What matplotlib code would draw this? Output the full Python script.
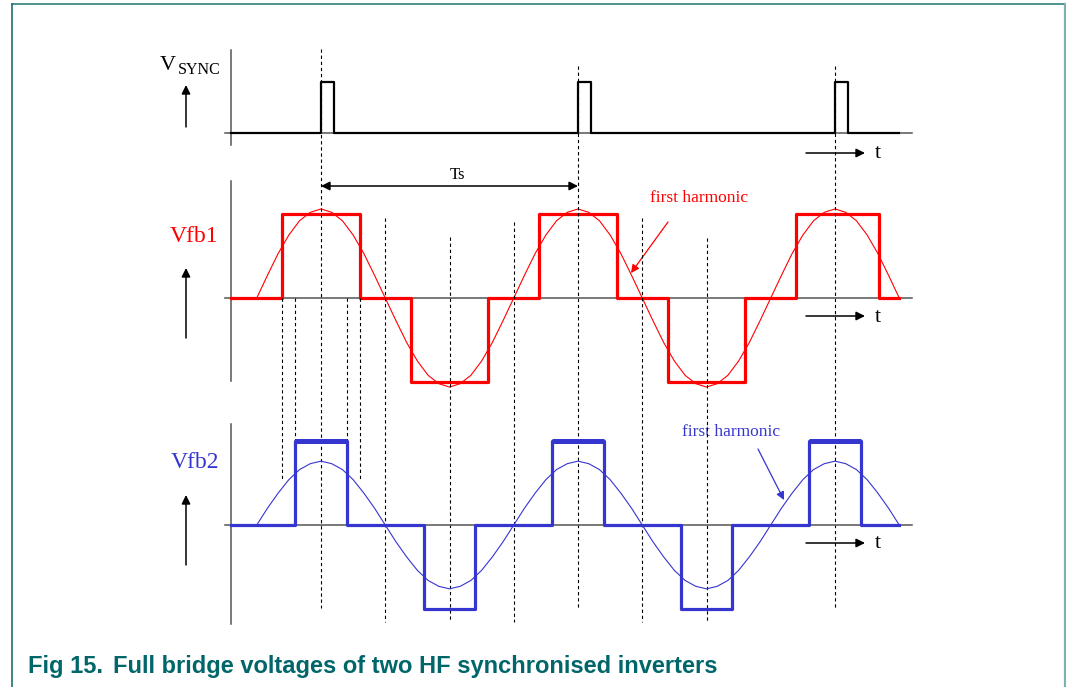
import numpy as np
import matplotlib.pyplot as plt
from matplotlib import transforms

# figure size in pixels (dpi 100)
W, H = 1066, 687
# layout: where t=0 sits, pixels per switching period, pixels per unit amplitude
T0_PX, TS_PX, UNIT_PX = 321, 257, 84

# ---- data (time in units of Ts, t=0 at first sync pulse) ----
sync_t = [-0.35, 0.0, 0.05, 1.0, 1.05, 2.0, 2.05, 2.25]
sync_v = [0, 0.61, 0, 0.61, 0, 0.61, 0, 0]

fb1_t = [-0.35, -0.15, 0.15, 0.35, 0.65, 0.85, 1.15, 1.35, 1.65, 1.85, 2.17, 2.25]
fb1_v = [0, 1, 0, -1, 0, 1, 0, -1, 0, 1, 0, 0]

fb2_t = [-0.35, -0.10, 0.10, 0.40, 0.60, 0.90, 1.10, 1.40, 1.60, 1.90, 2.10, 2.25]
fb2_v = [0, 1, 0, -1, 0, 1, 0, -1, 0, 1, 0, 0]

# first harmonics, read every Ts/24 from t=-0.25 to t=2.25
harm_t = np.linspace(-0.25, 2.25, 61)
harm1_v = [0, 0.27, 0.53, 0.75, 0.92, 1.02, 1.06, 1.02, 0.92, 0.75, 0.53, 0.27,
           0, -0.27, -0.53, -0.75, -0.92, -1.02, -1.06, -1.02, -0.92, -0.75, -0.53, -0.27,
           0, 0.27, 0.53, 0.75, 0.92, 1.02, 1.06, 1.02, 0.92, 0.75, 0.53, 0.27,
           0, -0.27, -0.53, -0.75, -0.92, -1.02, -1.06, -1.02, -0.92, -0.75, -0.53, -0.27,
           0, 0.27, 0.53, 0.75, 0.92, 1.02, 1.06, 1.02, 0.92, 0.75, 0.53, 0.27, 0]
harm2_v = [0, 0.20, 0.38, 0.54, 0.66, 0.73, 0.76, 0.73, 0.66, 0.54, 0.38, 0.20,
           0, -0.20, -0.38, -0.54, -0.66, -0.73, -0.76, -0.73, -0.66, -0.54, -0.38, -0.20,
           0, 0.20, 0.38, 0.54, 0.66, 0.73, 0.76, 0.73, 0.66, 0.54, 0.38, 0.20,
           0, -0.20, -0.38, -0.54, -0.66, -0.73, -0.76, -0.73, -0.66, -0.54, -0.38, -0.20,
           0, 0.20, 0.38, 0.54, 0.66, 0.73, 0.76, 0.73, 0.66, 0.54, 0.38, 0.20, 0]

# guide lines (time positions)
sync_marks = [0, 1, 2]
quarter_marks = [0.25, 0.5, 0.75, 1.25, 1.5]
fb1_edge_marks = [-0.15, 0.15]
fb2_edge_marks = [-0.10, 0.10]

RED = '#ff0000'
BLUE = '#3535d0'
TEAL = '#00666a'
AXC = '#555555'
SERIF = 'Liberation Serif'

fig = plt.figure(figsize=(W / 100, H / 100), dpi=100)
xlim = (-T0_PX / TS_PX, (W - T0_PX) / TS_PX)


def panel(base_px):
    # every panel covers the whole figure, ylim puts the baseline at base_px
    a = fig.add_axes([0, 0, 1, 1])
    a.set_xlim(*xlim)
    a.set_ylim(-(H - base_px) / UNIT_PX, base_px / UNIT_PX)
    a.axis('off')
    a.patch.set_alpha(0)
    return a


lay = fig.add_axes([0, 0, 1, 1])
lay.set_xlim(0, W)
lay.set_ylim(H, 0)
lay.axis('off')

ax0 = panel(133)
ax1 = panel(298)
ax2 = panel(525)

t_of = lambda x: (x - T0_PX) / TS_PX

# axis frames of the three panels
for a, (ytop, ybot) in zip([ax0, ax1, ax2], [(50, 145), (181, 381), (424, 624)]):
    tr = transforms.blended_transform_factory(a.transData, lay.transData)
    a.plot([t_of(231), t_of(231)], [ytop, ybot], color=AXC, lw=1.1, transform=tr)
    a.plot([t_of(225), t_of(912)], [0, 0], color=AXC, lw=1.1)

# signals
ax0.plot(sync_t, sync_v, drawstyle='steps-post', color='black', lw=1.6)
ax1.plot(fb1_t, fb1_v, drawstyle='steps-post', color=RED, lw=2.3)
ax1.plot(harm_t, harm1_v, color=RED, lw=0.8)
ax2.plot(fb2_t, fb2_v, drawstyle='steps-post', color=BLUE, lw=2.3)
# the positive plateaus of Vfb2 are drawn heavier in the original
for i in range(len(fb2_v) - 1):
    if fb2_v[i] > 0:
        ax2.plot([fb2_t[i], fb2_t[i + 1]], [fb2_v[i], fb2_v[i]], color=BLUE, lw=3.6,
                 solid_capstyle='butt')
ax2.plot(harm_t, harm2_v, color=BLUE, lw=0.8)

# dashed guide lines
gtr = transforms.blended_transform_factory(ax1.transData, lay.transData)
dash = dict(color='black', lw=0.8, ls=(0, (3, 2.5)), transform=gtr)
for t, ytop in zip(sync_marks, [49, 66, 66]):
    ax1.plot([t, t], [ytop, 608], **dash)
for t, ytop in zip(quarter_marks, [218, 237, 222, 218, 238]):
    ax1.plot([t, t], [ytop, 622], **dash)
for t in fb1_edge_marks:
    ax1.plot([t, t], [298, 481], **dash)
for t in fb2_edge_marks:
    ax1.plot([t, t], [298, 441], **dash)

# arrows
arr = dict(arrowstyle='-|>', color='black', lw=1.1, mutation_scale=13, shrinkA=0, shrinkB=0)
for y in [153, 316, 543]:
    lay.annotate('', xy=(865, y), xytext=(806, y), arrowprops=arr)
for y0, y1 in [(127, 85), (338, 268), (565, 495)]:
    lay.annotate('', xy=(186, y1), xytext=(186, y0), arrowprops=arr)
lay.annotate('', xy=(578, 186), xytext=(321, 186),
             arrowprops=dict(arrowstyle='<|-|>', color='black', lw=1.1,
                             mutation_scale=13, shrinkA=0, shrinkB=0))
lay.annotate('', xy=(631, 273), xytext=(668, 222),
             arrowprops=dict(arrowstyle='-|>', color=RED, lw=0.9, mutation_scale=12,
                             shrinkA=0, shrinkB=0))
lay.annotate('', xy=(784, 500), xytext=(758, 449),
             arrowprops=dict(arrowstyle='-|>', color=BLUE, lw=0.9, mutation_scale=12,
                             shrinkA=0, shrinkB=0))

# labels
lay.text(160, 70, 'V', family=SERIF, fontsize=16, va='baseline')
lay.text(178, 74, 'SYNC', family=SERIF, fontsize=11.5, va='baseline')
lay.text(194, 236, 'Vfb1', family=SERIF, fontsize=17, color=RED, ha='center', va='center')
lay.text(195, 463, 'Vfb2', family=SERIF, fontsize=17, color=BLUE, ha='center', va='center')
lay.text(458, 175, 'Ts', family=SERIF, fontsize=12, ha='center', va='center')
for y in [153, 317, 544]:
    lay.text(875, y, 't', family=SERIF, fontsize=16, va='center')
lay.text(650, 198, 'first harmonic', family=SERIF, fontsize=12.5, color=RED, va='center')
lay.text(682, 432, 'first harmonic', family=SERIF, fontsize=12.5, color=BLUE, va='center')

# caption
lay.text(28, 673, 'Fig 15.', family='Liberation Sans', fontsize=17, weight='bold',
         color=TEAL, va='baseline')
lay.text(113, 673, 'Full bridge voltages of two HF synchronised inverters',
         family='Liberation Sans', fontsize=17, weight='bold', color=TEAL, va='baseline')

# frame around the figure
lay.plot([12, 1065], [4, 4], color='#2f7f7f', lw=1.2)
lay.plot([12, 12], [4, H], color='#1f6f6f', lw=1.2)
lay.plot([1065, 1065], [4, H], color='#7ab2b2', lw=1.6)

fig.savefig('out.png', dpi=100)
